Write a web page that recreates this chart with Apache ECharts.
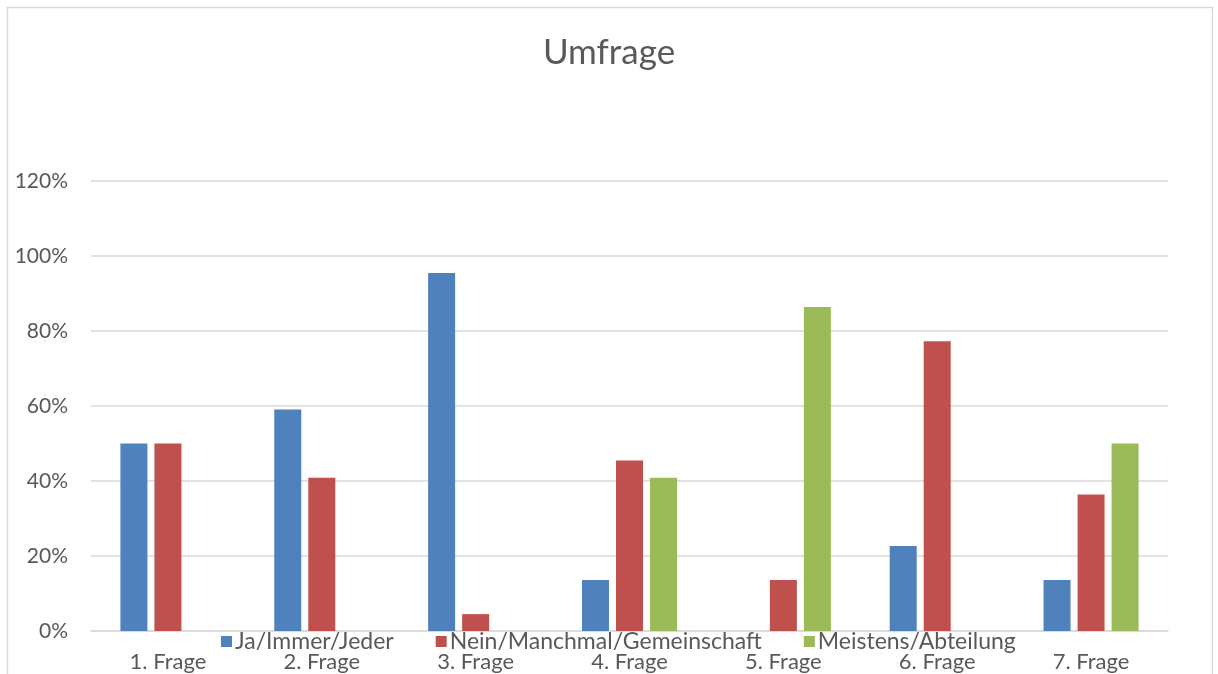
<!DOCTYPE html>
<html>
<head>
<meta charset="utf-8">
<script src="https://cdn.jsdelivr.net/npm/echarts@6/dist/echarts.min.js"></script>
<style>
  html, body { margin: 0; padding: 0; background: #fff; }
  #chart { width: 1218px; height: 674px; }
</style>
</head>
<body>
<div id="chart"></div>
<script>
// Survey results: share of answers per question
const categories = ['1. Frage', '2. Frage', '3. Frage', '4. Frage', '5. Frage', '6. Frage', '7. Frage'];
const seriesNames = ['Ja/Immer/Jeder', 'Nein/Manchmal/Gemeinschaft', 'Meistens/Abteilung'];
const jaValues = [0.5, 0.591, 0.955, 0.136, null, 0.227, 0.136];
const neinValues = [0.5, 0.409, 0.045, 0.455, 0.136, 0.773, 0.364];
const meistensValues = [null, null, null, 0.409, 0.864, null, 0.5];
const yTicks = { min: 0, max: 1.2, interval: 0.2 };

const colors = ['#4f81bd', '#c0504d', '#9bbb59'];
const font = 'Lato, "Open Sans", sans-serif';

const chart = echarts.init(document.getElementById('chart'), null, { renderer: 'canvas' });

const valueLists = [jaValues, neinValues, meistensValues];

chart.setOption({
  animation: false,
  color: colors,
  title: {
    text: 'Umfrage',
    left: 'center',
    top: 30,
    textStyle: { fontFamily: font, fontSize: 35, fontWeight: 'normal', color: '#595959' }
  },
  legend: {
    data: seriesNames,
    top: 625,
    left: 216,
    itemWidth: 11,
    itemHeight: 11,
    itemGap: 42,
    icon: 'rect',
    textStyle: { fontFamily: font, fontSize: 23, color: '#595959', padding: [0, 0, 0, -2] }
  },
  grid: { left: 91, right: 50, top: 181, bottom: 43 },
  xAxis: {
    type: 'category',
    data: categories,
    axisLine: { lineStyle: { color: '#d9d9d9', width: 1.5 } },
    axisTick: { show: false },
    axisLabel: { fontFamily: font, fontSize: 22, color: '#595959', margin: 20 }
  },
  yAxis: {
    type: 'value',
    min: yTicks.min,
    max: yTicks.max,
    interval: yTicks.interval,
    axisLine: { show: false },
    axisTick: { show: false },
    splitLine: { lineStyle: { color: '#d9d9d9', width: 1.5 } },
    axisLabel: {
      fontFamily: font, fontSize: 21, color: '#595959', margin: 23,
      formatter: v => Math.round(v * 100) + '%'
    }
  },
  graphic: [{
    type: 'rect',
    silent: true,
    shape: { x: 7.5, y: 7.5, width: 1205, height: 720 },
    style: { fill: 'none', stroke: '#d9d9d9', lineWidth: 1.5 }
  }],
  series: seriesNames.map((name, i) => ({
    name,
    type: 'bar',
    data: valueLists[i],
    barWidth: 27,
    barGap: '26%',
    itemStyle: { color: colors[i] }
  }))
});
</script>
</body>
</html>
